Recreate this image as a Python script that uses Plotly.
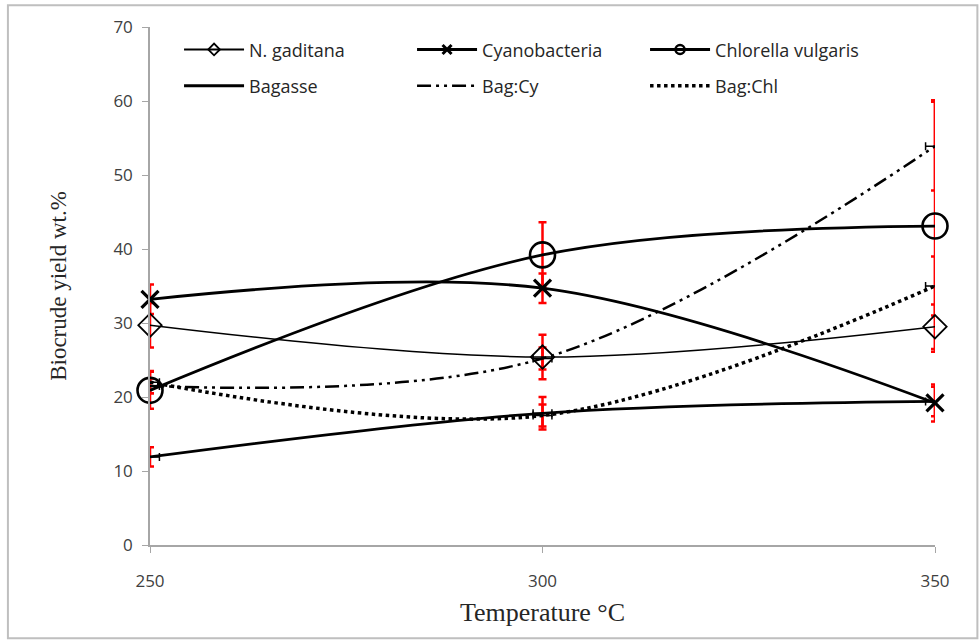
import plotly.graph_objects as go

# Reaction temperature (°C)
temperature = [250, 300, 350]

# Biocrude yield, wt.%
n_gaditana = [29.7, 25.4, 29.5]
cyanobacteria = [33.2, 34.7, 19.2]
chlorella = [20.9, 39.2, 43.1]
bagasse = [11.9, 17.8, 19.4]
bag_cy = [21.5, 25.2, 53.9]
bag_chl = [22.0, 17.5, 35.0]

# Standard deviations of the yields
sd_n_gaditana = [3.0, 3.0, 3.0]
sd_cyanobacteria = [2.0, 2.0, 2.5]
sd_chlorella = [2.5, 4.4, 17.0]
sd_bagasse = [1.3, 2.2, 2.0]
sd_bag_cy = [1.0, 1.5, 6.0]
sd_bag_chl = [1.5, 1.5, 4.0]

# Horizontal (temperature) uncertainty on the bagasse and blend series
sd_temperature = [1.2, 1.2, 1.2]

y_ticks = [0, 10, 20, 30, 40, 50, 60, 70]
x_ticks = [250, 300, 350]

SANS = "Open Sans, Lato, sans-serif"
SERIF = "Liberation Serif, Times New Roman, serif"

series = [
    dict(name="N. gaditana", y=n_gaditana, sd=sd_n_gaditana, legend="legend",
         line=dict(color="black", width=1.5),
         marker=dict(symbol="diamond-open", size=18, color="black", line=dict(width=1.8, color="black")),
         key_marker=dict(symbol="diamond-open", size=9, color="black", line=dict(width=1.8, color="black")),
         key_width=1.8, mode="lines+markers"),
    dict(name="Cyanobacteria", y=cyanobacteria, sd=sd_cyanobacteria, legend="legend",
         line=dict(color="black", width=2.8),
         marker=dict(symbol="x-thin-open", size=17, color="black", line=dict(width=3.2, color="black")),
         key_marker=dict(symbol="x-thin-open", size=9, color="black", line=dict(width=3, color="black")),
         key_width=3, mode="lines+markers"),
    dict(name="Chlorella vulgaris", y=chlorella, sd=sd_chlorella, legend="legend",
         line=dict(color="black", width=2.8),
         marker=dict(symbol="circle-open", size=25, color="black", line=dict(width=2.6, color="black")),
         key_marker=dict(symbol="circle-open", size=9, color="black", line=dict(width=2.5, color="black")),
         key_width=3, mode="lines+markers"),
    dict(name="Bagasse", y=bagasse, sd=sd_bagasse, legend="legend2",
         line=dict(color="black", width=2.8), key_width=3, mode="lines", xerr=True),
    dict(name="Bag:Cy", y=bag_cy, sd=sd_bag_cy, legend="legend2",
         line=dict(color="black", width=2.5, dash="14px,5px,3px,5px,3px,5px"), key_width=2.5,
         mode="lines", xerr=True),
    dict(name="Bag:Chl", y=bag_chl, sd=sd_bag_chl, legend="legend2",
         line=dict(color="black", width=3.5, dash="dot"), key_width=3.5, mode="lines", xerr=True),
]

fig = go.Figure()

# Red error bars sit underneath every curve
for s in series:
    fig.add_trace(go.Scatter(
        x=temperature, y=s["y"], mode="markers", showlegend=False, hoverinfo="skip",
        marker=dict(size=1, color="rgba(0,0,0,0)"),
        error_y=dict(type="data", array=s["sd"], visible=True, color="#FF0000", thickness=2.5, width=4),
        cliponaxis=False,
    ))

# Small black temperature error bars, clipped to the plotting area
for s in series:
    if s.get("xerr"):
        fig.add_trace(go.Scatter(
            x=temperature, y=s["y"], mode="markers", showlegend=False, hoverinfo="skip",
            marker=dict(size=1, color="rgba(0,0,0,0)"),
            error_x=dict(type="data", array=sd_temperature, visible=True, color="black", thickness=1.5, width=4),
            cliponaxis=True,
        ))

# Smoothed yield curves
for s in series:
    kw = dict(x=temperature, y=s["y"], name=s["name"], mode=s["mode"],
              line=dict(shape="spline", **s["line"]), showlegend=False, cliponaxis=False)
    if "marker" in s:
        kw["marker"] = s["marker"]
    fig.add_trace(go.Scatter(**kw))

# Legend keys with compact symbols
for s in series:
    key_line = dict(s["line"])
    key_line["width"] = s["key_width"]
    kw = dict(x=[None], y=[None], name=s["name"], mode=s["mode"], line=key_line,
              legend=s["legend"], hoverinfo="skip")
    if "key_marker" in s:
        kw["marker"] = s["key_marker"]
    fig.add_trace(go.Scatter(**kw))

legend_common = dict(
    orientation="h", xanchor="left", yanchor="middle", x=0.037,
    entrywidth=158, entrywidthmode="pixels", itemwidth=60,
    bgcolor="rgba(0,0,0,0)", font=dict(family=SANS, size=18, color="#262626"),
)

fig.update_layout(
    width=979, height=640,
    margin=dict(l=150, r=44, t=27, b=95),
    paper_bgcolor="white", plot_bgcolor="white",
    legend=dict(y=0.956, **legend_common),
    legend2=dict(y=0.886, **legend_common),
    xaxis=dict(
        range=[250, 350], tickmode="array", tickvals=x_ticks, ticktext=[str(t) for t in x_ticks],
        showgrid=False, zeroline=False, showline=True, linecolor="#A6A6A6", linewidth=1.5,
        ticks="outside", ticklen=6, tickcolor="#A6A6A6", ticklabelstandoff=14,
        tickfont=dict(family=SANS, size=17, color="#404040"),
        title=dict(text="Temperature °C", font=dict(family=SERIF, size=26, color="#262626"), standoff=12),
    ),
    yaxis=dict(
        range=[0, 70], tickmode="array", tickvals=y_ticks, ticktext=[str(t) for t in y_ticks],
        showgrid=False, zeroline=False, showline=True, linecolor="#A6A6A6", linewidth=1.5,
        ticks="outside", ticklen=6, tickcolor="#A6A6A6", ticklabelstandoff=6,
        tickfont=dict(family=SANS, size=17, color="#404040"),
        title=dict(text="Biocrude yield wt.%", font=dict(family=SERIF, size=23, color="#262626"), standoff=40),
    ),
    shapes=[dict(type="rect", xref="paper", yref="paper",
                 x0=-0.181, x1=1.054, y0=-0.18, y1=1.042,
                 line=dict(color="#BFBFBF", width=2), fillcolor="rgba(0,0,0,0)", layer="below")],
)

fig.write_html("out.html")
